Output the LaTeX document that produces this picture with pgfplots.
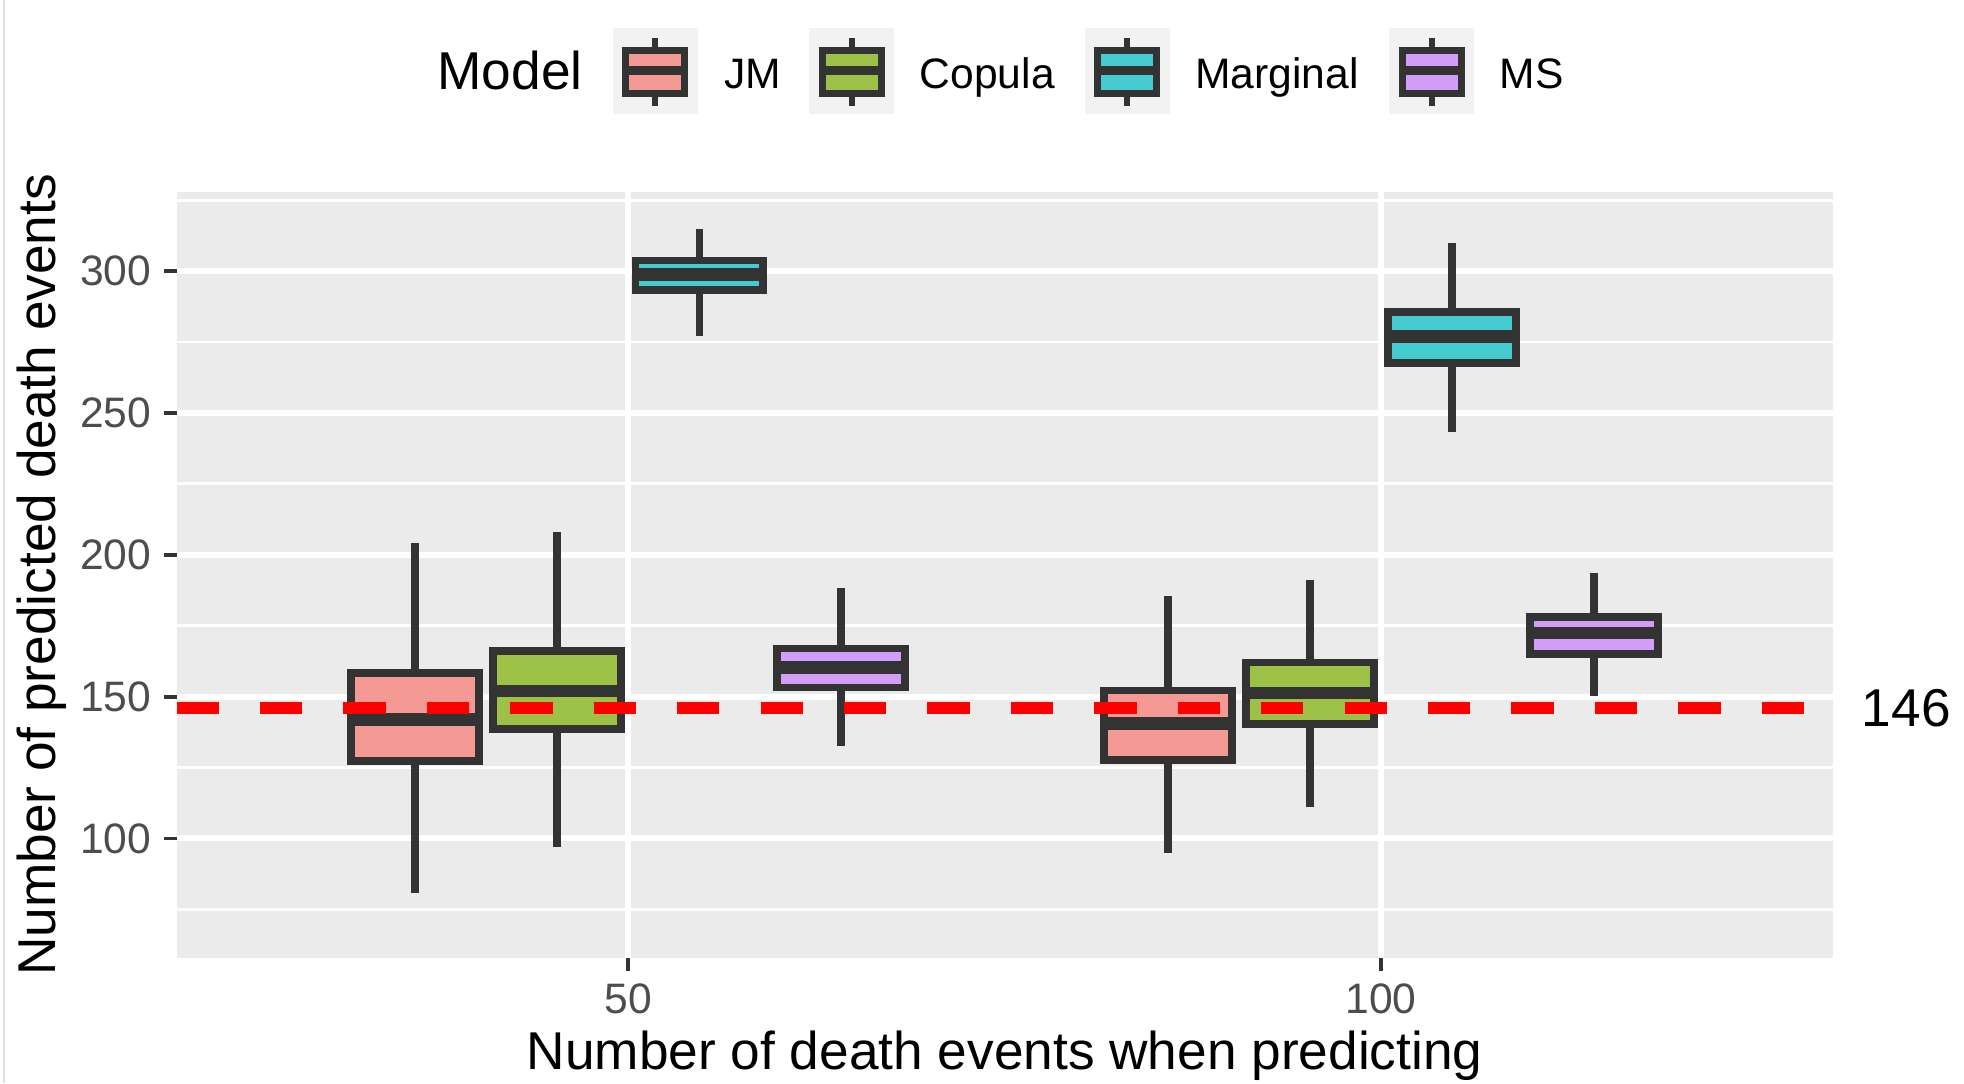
\documentclass[border=0pt]{standalone}
\usepackage{fontspec}
\setmainfont{Liberation Sans}
\usepackage{pgfplots}
\pgfplotsset{compat=1.18}
\usepgfplotslibrary{statistics}

\definecolor{panelbg}{HTML}{EBEBEB}
\definecolor{boxline}{HTML}{333333}
\definecolor{tickgray}{HTML}{4D4D4D}
\definecolor{keybg}{HTML}{F2F2F2}
\definecolor{cJM}{HTML}{F49993}
\definecolor{cCop}{HTML}{9DC046}
\definecolor{cMar}{HTML}{46CCD0}
\definecolor{cMS}{HTML}{D29DF9}

\newcommand{\bigfont}{\fontsize{21.25bp}{25bp}\selectfont}
\newcommand{\smallfont}{\fontsize{17bp}{20bp}\selectfont}

% legend key: #1 left x (bp), #2 fill colour
\newcommand{\legkey}[2]{%
  \fill[keybg] (#1bp,387bp) rectangle ++(34bp,34.5bp);
  \draw[boxline, line width=2.4bp] (#1bp+17bp,390.2bp) -- (#1bp+17bp,395.15bp);
  \draw[boxline, line width=2.4bp] (#1bp+17bp,412.25bp) -- (#1bp+17bp,417.2bp);
  \filldraw[draw=boxline, fill=#2, line width=2.8bp] (#1bp+5.25bp,395.15bp) rectangle (#1bp+28.75bp,412.25bp);
  \draw[boxline, line width=3.6bp] (#1bp+5.25bp,404.25bp) -- (#1bp+28.75bp,404.25bp);
}

\begin{document}
\begin{tikzpicture}
\useasboundingbox (0,0) rectangle (784bp,432.5bp);
\fill[white] (0,0) rectangle (784bp,432.5bp);
\draw[black!12, line width=0.8bp] (1.6bp,0) -- (1.6bp,432.5bp);

\begin{axis}[
  at={(70.5bp,50bp)}, anchor=south west,
  scale only axis, width=661bp, height=306bp,
  xmin=20, xmax=130, ymin=57.8, ymax=328,
  axis background/.style={fill=panelbg},
  axis line style={draw=none},
  xtick={50,100}, ytick={100,150,200,250,300},
  minor ytick={75,125,175,225,275,325},
  xmajorgrids, ymajorgrids, yminorgrids,
  major grid style={white, line width=2.4bp},
  minor grid style={white, line width=1.1bp},
  tick pos=left,
  tick align=outside,
  major tick length=5bp, minor tick length=0pt,
  tick style={boxline, line width=1.5bp},
  ticklabel style={font=\smallfont, text=tickgray, inner sep=0pt},
  xticklabel shift=5bp, yticklabel shift=5bp,
  /pgf/number format/assume math mode=true,
  clip=false,
  boxplot/draw direction=y,
  boxplot/whisker extend=0,
  boxplot/every median/.style={line width=5bp},
]
% group 50
\addplot[draw=boxline, fill=cJM, line width=3bp, boxplot prepared={draw position=35.85, box extend=8.5,
  lower whisker=80.8, lower quartile=127.3, median=141.9, upper quartile=158.3, upper whisker=204.0}] coordinates {};
\addplot[draw=boxline, fill=cCop, line width=3bp, boxplot prepared={draw position=45.28, box extend=8.5,
  lower whisker=97.0, lower quartile=138.6, median=152.0, upper quartile=166.0, upper whisker=208.2}] coordinates {};
\addplot[draw=boxline, fill=cMar, line width=3bp, boxplot prepared={draw position=54.72, box extend=8.5,
  lower whisker=277.1, lower quartile=293.3, median=298.8, upper quartile=303.7, upper whisker=314.9}] coordinates {};
\addplot[draw=boxline, fill=cMS, line width=3bp, boxplot prepared={draw position=64.15, box extend=8.5,
  lower whisker=132.5, lower quartile=153.2, median=160.3, upper quartile=166.9, upper whisker=188.3}] coordinates {};
% group 100
\addplot[draw=boxline, fill=cJM, line width=3bp, boxplot prepared={draw position=85.85, box extend=8.5,
  lower whisker=94.9, lower quartile=127.7, median=140.6, upper quartile=152.1, upper whisker=185.6}] coordinates {};
\addplot[draw=boxline, fill=cCop, line width=3bp, boxplot prepared={draw position=95.28, box extend=8.5,
  lower whisker=111.1, lower quartile=140.3, median=151.3, upper quartile=162.1, upper whisker=191.2}] coordinates {};
\addplot[draw=boxline, fill=cMar, line width=3bp, boxplot prepared={draw position=104.72, box extend=8.5,
  lower whisker=243.3, lower quartile=267.6, median=277.0, upper quartile=285.6, upper whisker=309.9}] coordinates {};
\addplot[draw=boxline, fill=cMS, line width=3bp, boxplot prepared={draw position=114.15, box extend=8.5,
  lower whisker=150.2, lower quartile=165.1, median=172.5, upper quartile=178.1, upper whisker=193.4}] coordinates {};
% reference line
\addplot[red, line width=4.7bp, dash pattern=on 16.9bp off 16.4bp] coordinates {(20,146) (130,146)};
\node[anchor=west, inner sep=0pt, font=\bigfont, xshift=11.5bp] at (axis cs:130,146) {146};
\end{axis}

\node[rotate=90, anchor=base, inner sep=0pt, font=\bigfont] at (22bp,203bp) {Number of predicted death events};
\node[anchor=base, inner sep=0pt, font=\bigfont] at (401bp,5.5bp) {Number of death events when predicting};

% legend
\node[anchor=base west, inner sep=0pt, font=\bigfont] at (174.5bp,396.6bp) {Model};
\legkey{244.5}{cJM}
\node[anchor=base west, inner sep=0pt, font=\smallfont] at (289bp,397.25bp) {JM};
\legkey{323}{cCop}
\node[anchor=base west, inner sep=0pt, font=\smallfont] at (367bp,397.25bp) {Copula};
\legkey{433}{cMar}
\node[anchor=base west, inner sep=0pt, font=\smallfont] at (477bp,397.25bp) {Marginal};
\legkey{554.5}{cMS}
\node[anchor=base west, inner sep=0pt, font=\smallfont] at (598.5bp,397.25bp) {MS};
\end{tikzpicture}
\end{document}
